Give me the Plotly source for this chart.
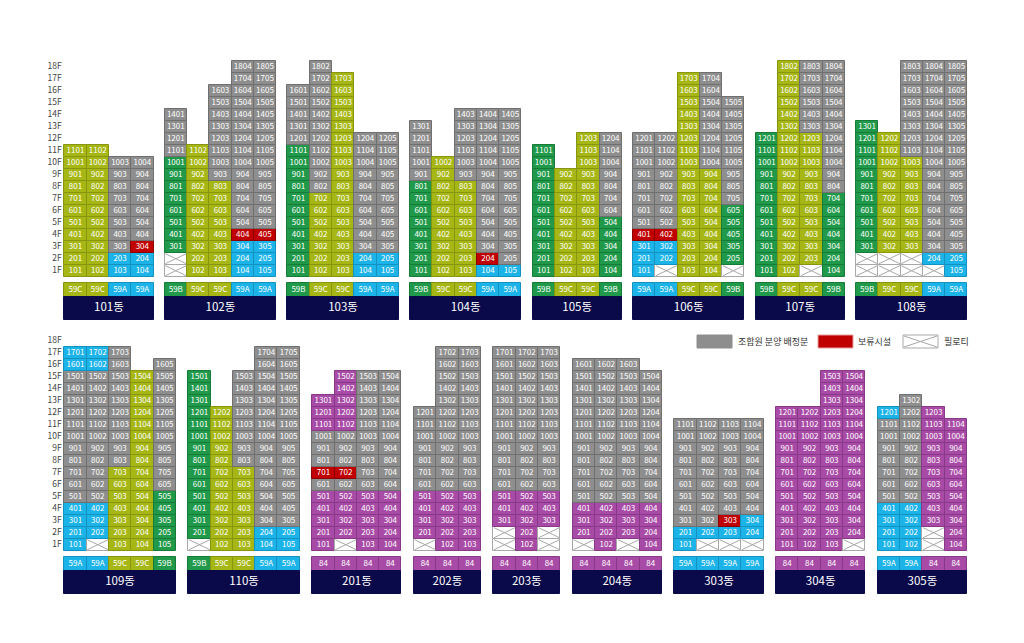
import plotly.graph_objects as go

# ---------------- data ----------------
FLOOR_LABELS = [f"{n}F" for n in range(1, 19)]

TOP_ROW = ["101동", "102동", "103동", "104동", "105동", "106동", "107동", "108동"]
BOTTOM_ROW = ["109동", "110동", "201동", "202동", "203동", "204동", "303동", "304동", "305동"]

# unit type of each column (left to right)
UNIT_TYPES = {
    "101동": ["59C", "59C", "59A", "59A"],
    "102동": ["59B", "59C", "59C", "59A", "59A"],
    "103동": ["59B", "59C", "59C", "59A", "59A"],
    "104동": ["59B", "59C", "59C", "59A", "59A"],
    "105동": ["59B", "59C", "59C", "59B"],
    "106동": ["59A", "59A", "59C", "59C", "59B"],
    "107동": ["59B", "59C", "59C", "59B"],
    "108동": ["59B", "59C", "59C", "59A", "59A"],
    "109동": ["59A", "59A", "59C", "59C", "59B"],
    "110동": ["59B", "59C", "59C", "59A", "59A"],
    "201동": ["84", "84", "84", "84"],
    "202동": ["84", "84", "84"],
    "203동": ["84", "84", "84"],
    "204동": ["84", "84", "84", "84"],
    "303동": ["59A", "59A", "59A", "59A"],
    "304동": ["84", "84", "84", "84"],
    "305동": ["59A", "59A", "84", "84"],
}

# floor status per column from 1F upward:
# T = general (type colour), G = 조합원 분양 배정분, R = 보류시설, X = 필로티
COLUMN_STATUS = {
    "101동": ["T11", "T11", "T2 G8", "T2 R1 G7"],
    "102동": ["X2 T8 G4", "T11", "T8 G8", "T3 R1 G14", "T3 R1 G14"],
    "103동": ["T11 G5", "T7 G11", "T17", "T2 G10", "T2 G10"],
    "104동": ["T8 G5", "T10", "T8 G6", "T1 R1 G12", "T1 G13"],
    "105동": ["T11", "T9", "T12", "T5 G7"],
    "106동": ["T3 R1 G8", "X1 T2 R1 G8", "T17", "T9 G8", "X1 T5 G9"],
    "107동": ["T12", "T18", "X1 T11 G6", "T7 G11"],
    "108동": ["X2 T11", "X2 T10", "X2 T8 G8", "X1 T1 G16", "T2 G16"],
    "109동": ["T4 G11 T2", "X1 T3 G11 T2", "T7 G10", "T15", "T5 G11"],
    "110동": ["X1 T14", "T12", "T7 G8", "T2 G15", "T2 G15"],
    "201동": ["T5 G1 R1 G3 T3", "X1 T4 G1 R1 G3 T5", "T5 G10", "T5 G10"],
    "202동": ["X1 T4 G7", "T5 G12", "T5 G12"],
    "203동": ["X2 T3 G12", "T5 G12", "X2 T3 G12"],
    "204동": ["X1 T3 G12", "T4 G12", "X1 T3 G12", "T4 G11"],
    "303동": ["T2 G9", "X1 T1 G9", "X1 T1 R1 G8", "X1 T2 G8"],
    "304동": ["T12", "T12", "T15", "X1 T14"],
    "305동": ["T4 G7 T1", "T4 G9", "X2 T10", "T11"],
}

LEGEND_LABELS = ["조합원 분양 배정분", "보류시설", "필로티"]

# ---------------- styling ----------------
TYPE_COLORS = {"59A": "#1bb3e8", "59B": "#20994a", "59C": "#a6b614", "84": "#a84ba6"}
TYPE_LINES = {"59A": "#1392c0", "59B": "#167a38", "59C": "#87950f", "84": "#873887"}
GRAY, GRAY_LINE = "#8e8e8e", "#6f6f6f"
RED, RED_LINE = "#c00000", "#8a0000"
NAVY = "#0a0a4a"
PIL_LINE = "#a8a8a8"
FONT = "Noto Sans CJK KR, Noto Sans, sans-serif"

W, H = 1024, 643
OFF = 8  # page body margin
COL_PX, FLOOR_PX = 22.3, 12.0
X0_PX = 64.3 - OFF
BOTTOM_BASE_PX = 550.7 - OFF
TOP_BASE_PX = 276.7 - OFF
ROWS = [(TOP_ROW, (BOTTOM_BASE_PX - TOP_BASE_PX) / FLOOR_PX, 0.5),
        (BOTTOM_ROW, 0.0, 0.56)]
TYPE_TOP, TYPE_BOT = -0.53, -1.72
NAME_BOT = -3.58

bx, bbase, bh, bw, bcol, bline = [], [], [], [], [], []
tx, ty, tt = [], [], []
ntx, nty, ntt = [], [], []
ptx, pty = [], []
fx, fy, ft = [], [], []

for row, yoff, gap in ROWS:
    cursor = 0.0
    for b in row:
        types = UNIT_TYPES[b]
        cols = COLUMN_STATUS[b]
        for ci, col in enumerate(cols):
            floor = 1
            cx = cursor + ci + 0.5
            for seg in col.split():
                code, n = seg[0], int(seg[1:])
                for _ in range(n):
                    y0 = yoff + floor - 1
                    bx.append(cx); bbase.append(y0); bh.append(1); bw.append(1)
                    if code == "X":
                        bcol.append("#ffffff"); bline.append(PIL_LINE)
                        ptx += [cx - 0.47, cx + 0.47, None, cx - 0.47, cx + 0.47, None]
                        pty += [y0 + 0.08, y0 + 0.92, None, y0 + 0.92, y0 + 0.08, None]
                    else:
                        if code == "T":
                            bcol.append(TYPE_COLORS[types[ci]]); bline.append(TYPE_LINES[types[ci]])
                        elif code == "G":
                            bcol.append(GRAY); bline.append(GRAY_LINE)
                        else:
                            bcol.append(RED); bline.append(RED_LINE)
                        tx.append(cx); ty.append(y0 + 0.5); tt.append(str(floor * 100 + ci + 1))
                    floor += 1
            # unit type row
            bx.append(cx); bbase.append(yoff + TYPE_BOT); bh.append(TYPE_TOP - TYPE_BOT); bw.append(1)
            bcol.append(TYPE_COLORS[types[ci]]); bline.append(TYPE_LINES[types[ci]])
            tx.append(cx); ty.append(yoff + (TYPE_TOP + TYPE_BOT) / 2); tt.append(types[ci])
        n = len(cols)
        bx.append(cursor + n / 2); bbase.append(yoff + NAME_BOT); bh.append(TYPE_BOT - NAME_BOT); bw.append(n)
        bcol.append(NAVY); bline.append(NAVY)
        ntx.append(cursor + n / 2); nty.append(yoff + (TYPE_BOT + NAME_BOT) / 2); ntt.append(b)
        cursor += n + gap
    for i, lab in enumerate(FLOOR_LABELS):
        fx.append(-0.12); fy.append(yoff + i + 0.5); ft.append(lab)

fig = go.Figure()
fig.add_trace(go.Bar(x=bx, y=bh, base=bbase, width=bw,
                     marker=dict(color=bcol, line=dict(color=bline, width=1)),
                     hoverinfo="skip", showlegend=False))
fig.add_trace(go.Scatter(x=ptx, y=pty, mode="lines", line=dict(color=PIL_LINE, width=1),
                         hoverinfo="skip", showlegend=False))
fig.add_trace(go.Scatter(x=tx, y=ty, text=tt, mode="text",
                         textfont=dict(family=FONT, size=8, color="white"),
                         hoverinfo="skip", showlegend=False))
fig.add_trace(go.Scatter(x=ntx, y=nty, text=ntt, mode="text",
                         textfont=dict(family=FONT, size=11.5, color="white"),
                         hoverinfo="skip", showlegend=False))
fig.add_trace(go.Scatter(x=fx, y=fy, text=ft, mode="text", textposition="middle left",
                         textfont=dict(family=FONT, size=8.5, color="#444444"),
                         hoverinfo="skip", showlegend=False))

# legend
def px_x(p):
    return (p - OFF) / W

def px_y(p):
    return 1 - (p - OFF) / H

legend_items = [
    (697, 732, GRAY, GRAY, 736, LEGEND_LABELS[0]),
    (818, 853, RED, "#e7a0a0", 856, LEGEND_LABELS[1]),
    (903, 938, "#ffffff", PIL_LINE, 942, LEGEND_LABELS[2]),
]
shapes = []
annotations = []
for x0, x1, fc, lc, tx0, lab in legend_items:
    shapes.append(dict(type="rect", xref="paper", yref="paper",
                       x0=px_x(x0), x1=px_x(x1), y0=px_y(348), y1=px_y(335),
                       fillcolor=fc, line=dict(color=lc, width=1)))
    annotations.append(dict(xref="paper", yref="paper", x=px_x(tx0), y=px_y(341.5),
                            text=lab, showarrow=False, xanchor="left", yanchor="middle",
                            font=dict(family=FONT, size=9, color="#333333")))
shapes.append(dict(type="line", xref="paper", yref="paper", x0=px_x(904), x1=px_x(937),
                   y0=px_y(347), y1=px_y(336), line=dict(color=PIL_LINE, width=1)))
shapes.append(dict(type="line", xref="paper", yref="paper", x0=px_x(904), x1=px_x(937),
                   y0=px_y(336), y1=px_y(347), line=dict(color=PIL_LINE, width=1)))

fig.update_layout(
    width=W, height=H, margin=dict(l=0, r=0, t=0, b=0),
    paper_bgcolor="white", plot_bgcolor="white",
    barmode="overlay", bargap=0,
    xaxis=dict(range=[-X0_PX / COL_PX, (W - X0_PX) / COL_PX], visible=False, fixedrange=True),
    yaxis=dict(range=[(BOTTOM_BASE_PX - H) / FLOOR_PX, BOTTOM_BASE_PX / FLOOR_PX],
               visible=False, fixedrange=True),
    shapes=shapes, annotations=annotations,
    font=dict(family=FONT),
)

fig.write_html("out.html")
